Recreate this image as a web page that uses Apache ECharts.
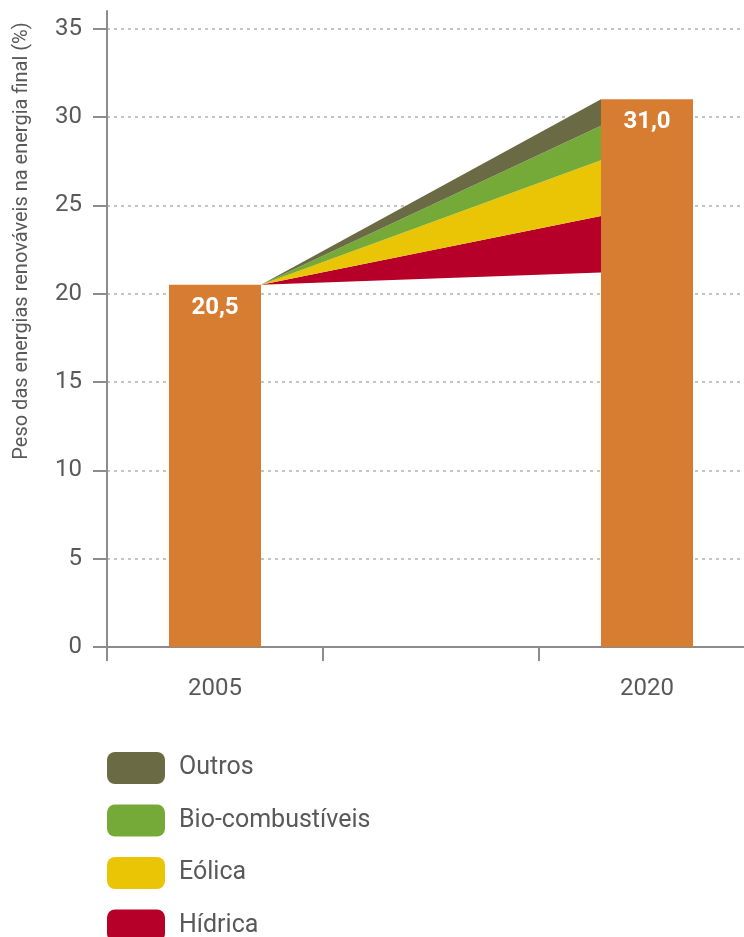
<!DOCTYPE html>
<html><head><meta charset="utf-8">
<script src="https://cdn.jsdelivr.net/npm/echarts@6/dist/echarts.min.js"></script>
<style>html,body{margin:0;padding:0;background:#fff}#c{width:744px;height:937px}</style>
</head><body><div id="c"></div>
<script>
// ---- data ----
const categories = ['2005', '', '2020'];
const totals = [20.5, null, 31.0];
const totalLabels = ['20,5', '', '31,0'];
const sources = ['Hídrica', 'Eólica', 'Bio-combustíveis', 'Outros'];
const wedgeBase2020 = 21.2;
const contributions2020 = [3.2, 3.15, 1.95, 1.5];
const yTicks = [0, 5, 10, 15, 20, 25, 30, 35];
const legendOrder = ['Outros', 'Bio-combustíveis', 'Eólica', 'Hídrica'];
const axisTitle = 'Peso das energias renováveis na energia final (%)';

// ---- style ----
const sourceColors = ['#B70029', '#E9C505', '#76AA38', '#6A6B45'];
const barColor = '#D67D32';
const BAR_FRAC = 0.426;
const FONT = 'Roboto';
const TEXT = '#595959';
const AXIS = '#8c8c8c';

const startIdx = 0, endIdx = 2;
let acc = wedgeBase2020;
const wedgeSeries = sources.map((name, i) => {
  const lo = acc, hi = acc + contributions2020[i];
  acc = hi;
  return {
    type: 'custom', name: name, z: 3,
    itemStyle: { color: sourceColors[i] },
    encode: { x: 0, y: [1, 2, 3] },
    data: [[endIdx, totals[startIdx], lo, hi]],
    renderItem: function (params, api) {
      const band = api.size([1, 0])[0];
      const half = band * BAR_FRAC / 2;
      const s = api.coord([startIdx, api.value(1)]);
      const l = api.coord([endIdx, api.value(2)]);
      const u = api.coord([endIdx, api.value(3)]);
      return {
        type: 'polygon',
        shape: { points: [[s[0] + half, s[1]], [l[0] - half, l[1]], [u[0] - half, u[1]]] },
        style: { fill: sourceColors[i] }
      };
    }
  };
});

const chart = echarts.init(document.getElementById('c'), null, { renderer: 'canvas' });
chart.setOption({
  animation: false,
  backgroundColor: '#fff',
  textStyle: { fontFamily: FONT },
  grid: { left: 107, right: -11, top: 11, bottom: 290, containLabel: false, outerBoundsMode: 'none' },
  legend: {
    data: legendOrder,
    orient: 'vertical',
    left: 107, top: 752, height: 220, padding: 0,
    itemWidth: 58, itemHeight: 32, itemGap: 20.5,
    icon: 'roundRect',
    textStyle: { fontFamily: FONT, fontSize: 25, color: TEXT, padding: [0, 0, 0, 9] }
  },
  graphic: [{
    type: 'text', x: 22, y: 241, rotation: Math.PI / 2,
    style: { text: axisTitle, fontFamily: FONT, fontSize: 20, fill: TEXT, align: 'center', verticalAlign: 'middle' }
  }],
  xAxis: {
    type: 'category', data: categories, boundaryGap: true,
    axisLine: { show: true, lineStyle: { color: AXIS, width: 2 } },
    axisTick: { show: true, interval: 0, length: 14, lineStyle: { color: AXIS, width: 2 } },
    axisLabel: { interval: 0, fontFamily: FONT, fontSize: 24, color: TEXT, margin: 30 },
    splitLine: { show: false }
  },
  yAxis: {
    type: 'value', min: 0, max: 36, interval: 5,
    axisLine: { show: true, lineStyle: { color: AXIS, width: 2 } },
    axisTick: { show: true, length: 14, customValues: yTicks, lineStyle: { color: AXIS, width: 2 } },
    axisLabel: { customValues: yTicks, fontFamily: FONT, fontSize: 24, color: TEXT, margin: 25 },
    splitLine: { show: true, lineStyle: { color: '#c4c4c4', width: 2, type: [3, 4] } }
  },
  series: [{
    type: 'bar', name: 'Total', data: totals, barWidth: (BAR_FRAC * 100) + '%', z: 2,
    itemStyle: { color: barColor },
    label: {
      show: true, position: 'insideTop', distance: 11,
      formatter: function (p) { return totalLabels[p.dataIndex]; },
      color: '#fff', fontFamily: FONT, fontWeight: 'bold', fontSize: 24
    }
  }].concat(wedgeSeries)
});
</script></body></html>
